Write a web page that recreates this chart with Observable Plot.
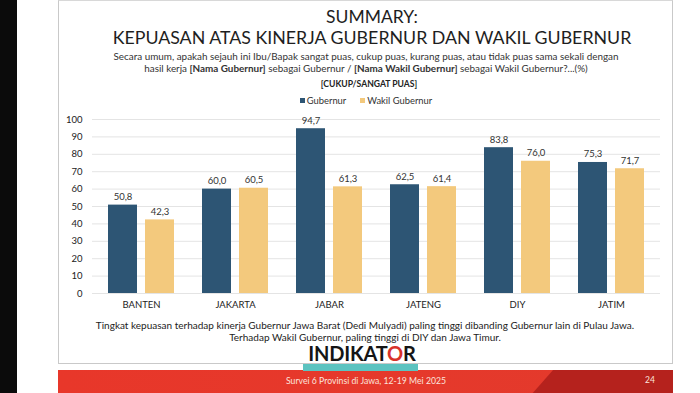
<!DOCTYPE html>
<html>
<head>
<meta charset="utf-8">
<script src="https://cdn.jsdelivr.net/npm/d3@7"></script>
<script src="https://cdn.jsdelivr.net/npm/@observablehq/plot@0.6"></script>
<style>
  html, body { margin: 0; padding: 0; }
  body { width: 700px; height: 393px; position: relative; overflow: hidden; background: #fff; font-family: "Lato", sans-serif; color: #222; }
  .abs { position: absolute; }
  .center { text-align: center; white-space: nowrap; }
</style>
</head>
<body>
<div class="abs" style="left:0;top:0;width:17px;height:393px;background:#0b0b0b"></div>
<div class="abs" style="left:58px;top:0;width:613px;height:362px;border:1px solid #c9c9c9;border-top-color:#d8d8d8"></div>
<div class="abs" style="left:58px;top:370px;width:615px;height:23px;background:linear-gradient(to right,#e8372a 0%,#e33a2c 100%)"></div>
<div class="abs" style="left:58px;top:370px;width:615px;height:23px;background:#b5221d;clip-path:polygon(80.5% 0,100% 0,100% 100%,77.2% 100%)"></div>

<div class="abs center" style="left:72px;width:600px;top:8px;font-size:17.5px;line-height:17px;color:#1e1e1e;">SUMMARY:</div>
<div class="abs center" style="left:72px;width:600px;top:28px;font-size:17.8px;line-height:18px;color:#1e1e1e;">KEPUASAN ATAS KINERJA GUBERNUR DAN WAKIL GUBERNUR</div>
<div class="abs center" style="left:66px;width:600px;top:50px;font-size:9.9px;line-height:12px;color:#333;">Secara umum, apakah sejauh ini Ibu/Bapak sangat puas, cukup puas, kurang puas, atau tidak puas sama sekali dengan</div>
<div class="abs center" style="left:66px;width:600px;top:62px;font-size:9.9px;line-height:12px;color:#333;">hasil kerja <b>[Nama Gubernur]</b> sebagai Gubernur / <b>[Nama Wakil Gubernur]</b> sebagai Wakil Gubernur?...(%)</div>
<div class="abs center" style="left:69px;width:600px;top:79px;font-size:8.6px;line-height:11px;color:#222;font-weight:700;">[CUKUP/SANGAT PUAS]</div>
<div id="legend" class="abs center" style="left:66px;width:600px;top:95px;font-size:9.4px;line-height:12px;color:#333;"></div>

<div id="chart" class="abs" style="left:58px;top:105px;"></div>

<div class="abs center" style="left:65px;width:600px;top:319px;font-size:10px;line-height:12px;color:#222;">Tingkat kepuasan terhadap kinerja Gubernur Jawa Barat (Dedi Mulyadi) paling tinggi dibanding Gubernur lain di Pulau Jawa.</div>
<div class="abs center" style="left:65px;width:600px;top:331px;font-size:10px;line-height:12px;color:#222;">Terhadap Wakil Gubernur, paling tinggi di DIY dan Jawa Timur.</div>
<div class="abs center" style="left:62px;width:600px;top:343px;font-size:20px;line-height:20px;color:#151515;font-weight:700;letter-spacing:-0.2px">INDIKAT<span style="color:#d8322a">O</span>R</div>
<div class="abs" style="left:303px;top:364px;width:115px;height:7px;background:#5cc3c0"></div>
<div class="abs center" style="left:66px;width:600px;top:375px;font-size:8.7px;line-height:11px;color:#fbe3dc;">Survei 6 Provinsi di Jawa, 12-19 Mei 2025</div>
<div class="abs" style="left:645px;top:375px;font-size:8.5px;line-height:11px;color:#fbe3dc;">24</div>

<script>
const regions = ["BANTEN", "JAKARTA", "JABAR", "JATENG", "DIY", "JATIM"];
const series = ["Gubernur", "Wakil Gubernur"];
const gubernur = [50.8, 60.0, 94.7, 62.5, 83.8, 75.3];
const wakil = [42.3, 60.5, 61.3, 61.4, 76.0, 71.7];
const yTicks = [0, 10, 20, 30, 40, 50, 60, 70, 80, 90, 100];
const colors = ["#2d5574", "#f3c97d"];

const gubData = regions.map((r, i) => ({region: r, series: series[0], value: gubernur[i]}));
const wakData = regions.map((r, i) => ({region: r, series: series[1], value: wakil[i]}));
const fmt = v => d3.format(".1f")(v).replace(".", ",");

document.getElementById("legend").innerHTML = series.map((s, i) =>
  `<span style="display:inline-block;width:5px;height:5px;background:${colors[i]};margin-right:2px;vertical-align:1px"></span>${s}`
).join('<span style="display:inline-block;width:14px"></span>');

const barGap = 37;
const chart = Plot.plot({
  width: 615,
  height: 210,
  marginLeft: 34,
  marginRight: 13,
  marginTop: 14,
  marginBottom: 22,
  style: {fontFamily: "Lato, sans-serif", fontSize: "9.5px", color: "#222", background: "transparent"},
  x: {domain: regions, paddingInner: 0.3, paddingOuter: 0.146, label: null, tickSize: 0, tickPadding: 8},
  y: {domain: [0, 100], ticks: yTicks, label: null, tickSize: 0, tickPadding: 10},
  color: {domain: series, range: colors},
  marks: [
    Plot.ruleY(yTicks, {stroke: "#e4e4e4", strokeWidth: 1}),
    Plot.barY(gubData, {x: "region", y: "value", fill: "series", insetLeft: 0, insetRight: barGap}),
    Plot.barY(wakData, {x: "region", y: "value", fill: "series", insetLeft: barGap, insetRight: 0}),
    Plot.text(gubData, {x: "region", y: "value", text: d => fmt(d.value), dx: -(barGap) / 2, dy: -5, lineAnchor: "bottom", fill: "#333", fontSize: 9.5}),
    Plot.text(wakData, {x: "region", y: "value", text: d => fmt(d.value), dx: (barGap) / 2, dy: -5, lineAnchor: "bottom", fill: "#333", fontSize: 9.5})
  ]
});
document.getElementById("chart").appendChild(chart);
</script>
</body>
</html>
